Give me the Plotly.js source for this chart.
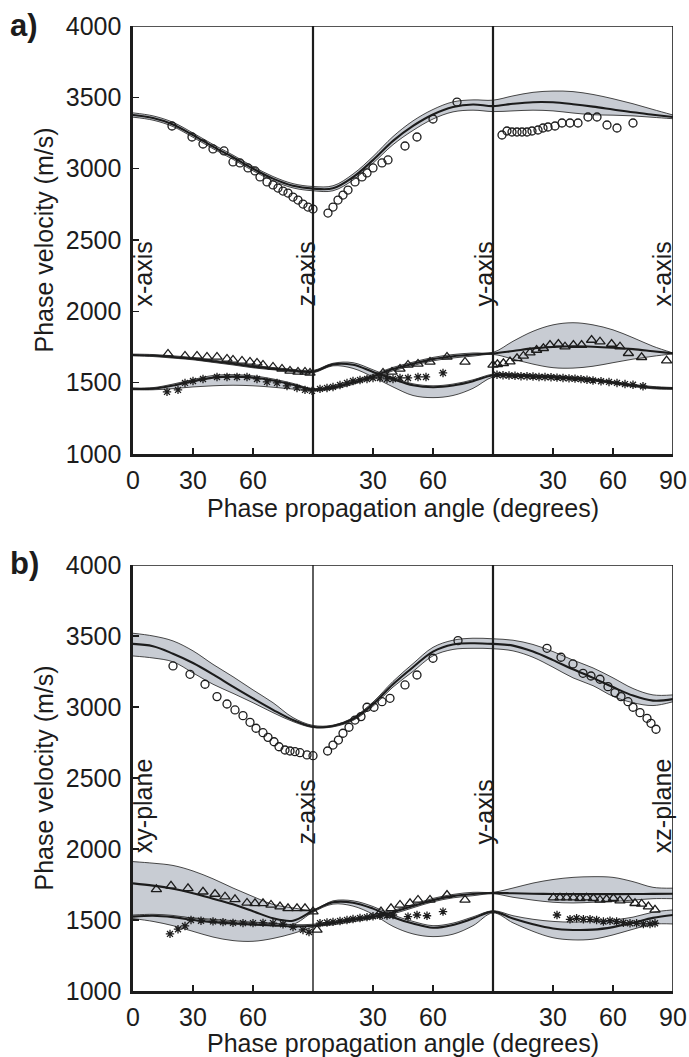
<!DOCTYPE html>
<html>
<head>
<meta charset="utf-8">
<script src="https://cdn.plot.ly/plotly-3.0.1.min.js"></script>
<style>html,body{margin:0;padding:0;background:#fff;}#chart{width:689px;height:1057px;}</style>
</head>
<body>
<div id="chart"></div>
<script>
// ---------- shared angle grid for model curves (cumulative degrees, 3 x 90 segments) ----------
const angleGrid = [0,10,20,30,40,50,60,70,80,90,100,110,120,130,140,150,160,170,180,190,200,210,220,230,240,250,260,270];
const tickVals = [0,30,60,120,150,210,240,270];
const tickText = ['0','30','60','30','60','30','60','90'];
const yTickVals = [1000,1500,2000,2500,3000,3500,4000];

// ---------- panel a: model curves ----------
const aPMean = [3376,3355,3310,3235,3155,3080,3000,2930,2880,2860,2862,2940,3060,3195,3300,3380,3432,3450,3438,3455,3466,3465,3452,3435,3415,3395,3378,3362];
const aPUp   = [3391,3370,3325,3250,3170,3095,3015,2945,2895,2875,2880,2962,3085,3225,3335,3415,3468,3482,3480,3510,3535,3544,3540,3520,3490,3455,3415,3376];
const aPLo   = [3361,3340,3295,3220,3140,3065,2985,2915,2865,2845,2845,2920,3038,3168,3268,3348,3398,3410,3400,3405,3410,3405,3390,3378,3375,3370,3360,3350];
const aAMean = [1694,1690,1680,1668,1650,1632,1612,1598,1585,1577,1628,1625,1575,1525,1482,1468,1480,1510,1552,1552,1545,1540,1530,1520,1500,1480,1465,1460];
const aAUp   = [1700,1697,1688,1676,1658,1640,1620,1606,1593,1585,1636,1640,1590,1535,1492,1478,1490,1520,1560,1560,1553,1548,1538,1528,1508,1488,1473,1466];
const aALo   = [1688,1683,1672,1660,1642,1624,1604,1590,1577,1569,1618,1600,1540,1470,1410,1395,1410,1460,1540,1544,1537,1532,1522,1512,1492,1472,1457,1454];
const aBMean = [1456,1458,1480,1510,1535,1542,1535,1515,1485,1450,1465,1500,1545,1595,1632,1665,1685,1697,1705,1722,1740,1750,1755,1752,1745,1735,1720,1705];
const aBUp   = [1462,1465,1490,1522,1550,1556,1548,1526,1495,1458,1475,1512,1557,1607,1644,1677,1697,1708,1712,1790,1860,1905,1920,1905,1870,1815,1755,1708];
const aBLo   = [1450,1450,1458,1470,1478,1482,1478,1468,1455,1442,1455,1488,1533,1583,1620,1653,1673,1686,1698,1665,1630,1605,1602,1615,1640,1665,1685,1702];

// ---------- panel a: measurements ----------
const aCircX = [19.5,29.5,35,40,45.5,50,53.5,57.5,61,63.5,67,70,72.5,75,77.5,80,82.5,85,87.5,90,
  97.5,100,102.5,105,107.5,111,114.5,117,120,124.5,127.5,136,142,150,162,
  184.5,187,189.5,192,194.5,197,199.5,202.5,205,207.5,211,214.5,218.5,222.5,227.5,232,237,242,250];
const aCircY = [3299,3222,3173,3138,3124,3047,3040,3005,2984,2942,2907,2886,2864,2843,2829,2801,2780,2752,2731,2717,
  2689,2731,2780,2815,2850,2907,2942,2970,3005,3040,3061,3159,3222,3348,3467,
  3236,3264,3257,3257,3257,3257,3264,3271,3285,3292,3299,3320,3320,3320,3362,3362,3306,3285,3320];
const aTriX = [17.5,26,32,37,42,47,50,54.5,58.5,62,65,70,74.5,78.5,82.5,86,88.5,
  125,129.5,133.5,137.5,142.5,148.5,157,166,180,
  182.2,185.2,188.5,192,195.2,198.5,201.8,205.2,208.5,212.7,216,220.2,224.3,229.3,233.5,239.3,243.5,247.7,254.3,266.8];
const aTriY = [1701,1687,1687,1680,1680,1666,1659,1652,1645,1638,1624,1610,1596,1582,1575,1575,1568,
  1568,1575,1596,1624,1631,1645,1680,1645,1624,
  1629,1636,1647,1670,1687,1710,1729,1741,1764,1771,1752,1764,1764,1799,1787,1771,1752,1706,1678,1654];
const aStarX = [17,22.5,26,30,35,42,47,52,57,62,67,72,77,82,86,89.5,
  93.5,97,100,103.5,107,110,113.5,117,120,123.5,127,130,133.5,137.5,142.5,146.5,155,
  182,185,188,191,194,197,200,203,206,209,212,215,218,221,224,227,230,234,238,242,246,250,255];
const aStarY = [1435,1449,1498,1512,1526,1540,1540,1540,1540,1526,1505,1498,1477,1463,1449,1442,
  1456,1463,1470,1484,1498,1512,1519,1526,1533,1533,1526,1526,1533,1533,1540,1540,1568,
  1555,1552,1550,1548,1545,1545,1543,1540,1540,1538,1535,1533,1530,1528,1525,1520,1515,1510,1505,1498,1490,1485,1475];

// ---------- panel b: model curves ----------
const bPMean = [3444,3428,3375,3310,3230,3143,3060,2980,2908,2861,2866,2915,3020,3160,3280,3390,3440,3449,3444,3432,3390,3330,3265,3205,3140,3080,3045,3055];
const bPUp   = [3519,3500,3465,3395,3300,3213,3120,3030,2925,2870,2872,2925,3035,3180,3305,3420,3470,3484,3480,3470,3440,3390,3330,3275,3205,3130,3085,3085];
const bPLo   = [3359,3345,3318,3240,3160,3096,3030,2960,2897,2855,2860,2905,3005,3140,3250,3360,3405,3413,3410,3395,3350,3280,3205,3150,3075,3030,3010,3037];
const bAMean = [1758,1742,1720,1688,1650,1610,1562,1512,1495,1565,1625,1622,1580,1520,1475,1445,1465,1510,1559,1510,1470,1440,1430,1432,1450,1480,1515,1535];
const bAUp   = [1911,1900,1884,1845,1790,1725,1665,1610,1585,1572,1635,1635,1595,1535,1490,1460,1478,1522,1565,1530,1505,1490,1485,1490,1500,1520,1555,1571];
const bALo   = [1530,1530,1525,1515,1505,1495,1485,1478,1470,1555,1612,1598,1540,1455,1402,1383,1400,1460,1550,1480,1420,1375,1360,1365,1395,1435,1470,1472];
const bBMean = [1524,1530,1520,1500,1485,1475,1468,1462,1455,1460,1478,1500,1522,1555,1598,1640,1668,1683,1690,1688,1685,1683,1682,1682,1682,1683,1684,1685];
const bBUp   = [1535,1540,1532,1512,1497,1487,1480,1474,1467,1470,1490,1512,1534,1567,1610,1652,1680,1695,1695,1725,1760,1785,1800,1805,1800,1770,1730,1724];
const bBLo   = [1510,1490,1460,1420,1380,1355,1350,1370,1405,1450,1466,1488,1510,1543,1586,1628,1656,1671,1685,1660,1640,1625,1620,1625,1630,1640,1650,1650];

// ---------- panel b: measurements ----------
const bCircX = [20,28.5,36,42,47,51,55,58.5,61.5,65,67.5,70.5,73,76,78.5,81,83.5,87,90,
  97.3,100,102.7,105,108,111,114,117,120.5,124.5,128.5,136,142,150,162.5,
  207,214,220,225,229,233.5,237.5,241,244,247.5,250,253.5,257,259,261.5];
const bCircY = [3289,3230,3160,3073,3021,2979,2939,2892,2850,2819,2786,2755,2720,2697,2690,2685,2678,2662,2657,
  2690,2732,2767,2815,2857,2908,2932,2998,2998,3037,3061,3155,3225,3343,3467,
  3413,3350,3303,3237,3218,3195,3143,3101,3073,3037,2998,2960,2920,2885,2843];
const bTriX = [11.7,19,27.5,35,41,46,51,57,61,65,69,73.5,77.5,82,86,90,
  92,124,129,133.5,138.5,142.5,148.5,157,166,
  210.2,213.5,216.8,220.2,223.5,226.8,230.2,233.5,236.8,240.2,243.5,247.7,251,254.3,257.7,261];
const bTriY = [1716,1740,1723,1699,1683,1664,1645,1620,1617,1617,1606,1594,1582,1582,1582,1559,
  1430,1559,1582,1606,1617,1641,1641,1676,1641,
  1657,1657,1657,1657,1653,1657,1653,1641,1646,1653,1636,1641,1618,1613,1594,1571];
const bStarX = [18.5,22.5,26,29,34,40,45,50,55,60,65,70,75,80,85,88,
  93.5,97,100,103.5,107,110,113.5,117,120,123.5,127,130,137.5,142,147,155,
  212,218.5,221.8,225.2,228.5,231.8,235.2,238.5,241.8,245.2,248.5,251.8,255.2,258.5,261];
const bStarY = [1402,1435,1458,1500,1495,1490,1485,1480,1478,1478,1480,1478,1470,1450,1430,1415,
  1478,1482,1487,1493,1500,1507,1514,1520,1526,1530,1532,1535,1524,1535,1530,1559,
  1535,1505,1512,1505,1505,1500,1489,1495,1489,1481,1477,1477,1472,1472,1477];

// ---------- labels ----------
const aDirLabels = ['x-axis','z-axis','y-axis','x-axis'];
const bDirLabels = ['xy-plane','z-axis','y-axis','xz-plane'];
const dirLabelX = [5,86.5,175.5,264.5];
const aDirTop = [2500,2500,2500,2500];
const bDirTop = [2650,2500,2500,2650];
const xTitle = 'Phase propagation angle (degrees)';
const yTitle = 'Phase velocity (m/s)';

// ---------- styles ----------
const FONT = 'Liberation Sans, Arial, Helvetica, sans-serif';
const INK = '#1c1c1c';
const BAND = 'rgb(200,204,211)';

function band(up, lo, xa, ya) {
  return [
    {x: angleGrid, y: up, xaxis: xa, yaxis: ya, mode: 'lines', line: {color: '#333', width: 0.9, shape: 'spline', smoothing: 1}, hoverinfo: 'skip', showlegend: false},
    {x: angleGrid, y: lo, xaxis: xa, yaxis: ya, mode: 'lines', fill: 'tonexty', fillcolor: BAND, line: {color: '#333', width: 0.9, shape: 'spline', smoothing: 1}, hoverinfo: 'skip', showlegend: false}
  ];
}
function mean(y, xa, ya) {
  return {x: angleGrid, y: y, xaxis: xa, yaxis: ya, mode: 'lines', line: {color: INK, width: 2.1, shape: 'spline', smoothing: 1}, showlegend: false};
}
function pts(x, y, sym, size, xa, ya) {
  return {x: x, y: y, xaxis: xa, yaxis: ya, mode: 'markers', showlegend: false,
    marker: {symbol: sym, size: size, color: INK, line: {color: INK, width: 1.3}}};
}

const traces = [].concat(
  band(aPUp, aPLo, 'x', 'y'), band(aAUp, aALo, 'x', 'y'), band(aBUp, aBLo, 'x', 'y'),
  band(bPUp, bPLo, 'x2', 'y2'), band(bAUp, bALo, 'x2', 'y2'), band(bBUp, bBLo, 'x2', 'y2'),
  [mean(aPMean, 'x', 'y'), mean(aAMean, 'x', 'y'), mean(aBMean, 'x', 'y'),
   mean(bPMean, 'x2', 'y2'), mean(bAMean, 'x2', 'y2'), mean(bBMean, 'x2', 'y2'),
   pts(aCircX, aCircY, 'circle-open', 8, 'x', 'y'),
   pts(aTriX, aTriY, 'triangle-up-open', 9, 'x', 'y'),
   pts(aStarX, aStarY, 'asterisk-open', 7, 'x', 'y'),
   pts(bCircX, bCircY, 'circle-open', 8, 'x2', 'y2'),
   pts(bTriX, bTriY, 'triangle-up-open', 9, 'x2', 'y2'),
   pts(bStarX, bStarY, 'asterisk-open', 7, 'x2', 'y2')]
);

function xAxis(anchor) {
  return {anchor: anchor, domain: [0, 1], range: [0, 270], tickmode: 'array', tickvals: tickVals, ticktext: tickText,
    ticks: 'inside', ticklen: 6, tickwidth: 1.2, tickcolor: INK, showgrid: false, zeroline: false,
    showline: true, linewidth: 2.6, linecolor: INK, ticklabelstandoff: 2,
    tickfont: {family: FONT, size: 25, color: INK},
    title: {text: xTitle, font: {family: FONT, size: 25, color: INK}, standoff: 2}};
}
function yAxis(anchor, dom) {
  return {anchor: anchor, domain: dom, range: [1000, 4000], tickmode: 'array', tickvals: yTickVals,
    ticks: 'inside', ticklen: 6, tickwidth: 1.2, tickcolor: INK, showgrid: false, zeroline: false,
    showline: true, linewidth: 2.6, linecolor: INK, ticklabelstandoff: 4,
    tickfont: {family: FONT, size: 25, color: INK},
    title: {text: yTitle, font: {family: FONT, size: 25, color: INK}, standoff: 5}};
}

const shapes = [];
[['x', 'y', 2.2], ['x2', 'y2', 1.4]].forEach(function (ax) {
  shapes.push({type: 'line', xref: ax[0], yref: ax[1], x0: 0, x1: 270, y0: 4000, y1: 4000, line: {color: INK, width: 1.6}});
  shapes.push({type: 'line', xref: ax[0], yref: ax[1], x0: 270, x1: 270, y0: 1000, y1: 4000, line: {color: INK, width: 1.6}});
  shapes.push({type: 'line', xref: ax[0], yref: ax[1], x0: 90, x1: 90, y0: 1000, y1: 4000, line: {color: INK, width: ax[2]}});
  shapes.push({type: 'line', xref: ax[0], yref: ax[1], x0: 180, x1: 180, y0: 1000, y1: 4000, line: {color: INK, width: 2.2}});
});

const annotations = [];
aDirLabels.forEach(function (t, i) {
  annotations.push({text: t, xref: 'x', yref: 'y', x: dirLabelX[i], y: aDirTop[i], xanchor: 'center', yanchor: 'top',
    textangle: -90, showarrow: false, font: {family: FONT, size: 25, color: INK}});
});
bDirLabels.forEach(function (t, i) {
  annotations.push({text: t, xref: 'x2', yref: 'y2', x: dirLabelX[i], y: bDirTop[i], xanchor: 'center', yanchor: 'top',
    textangle: -90, showarrow: false, font: {family: FONT, size: 25, color: INK}});
});
annotations.push({text: '<b>a)</b>', xref: 'paper', yref: 'paper', x: -0.232, y: 1.001, xanchor: 'left', yanchor: 'middle',
  showarrow: false, font: {family: FONT, size: 31, color: INK}});
annotations.push({text: '<b>b)</b>', xref: 'paper', yref: 'paper', x: -0.232, y: 0.4425, xanchor: 'left', yanchor: 'middle',
  showarrow: false, font: {family: FONT, size: 31, color: INK}});

const layout = {
  width: 689, height: 1057,
  margin: {l: 133, r: 16, t: 26, b: 66},
  paper_bgcolor: '#fff', plot_bgcolor: '#fff',
  showlegend: false,
  xaxis: xAxis('y'), yaxis: yAxis('x', [0.5565, 1]),
  xaxis2: xAxis('y2'), yaxis2: yAxis('x2', [0, 0.4415]),
  shapes: shapes, annotations: annotations,
  font: {family: FONT, color: INK}
};

Plotly.newPlot('chart', traces, layout, {staticPlot: true, displayModeBar: false});
</script>
</body>
</html>
